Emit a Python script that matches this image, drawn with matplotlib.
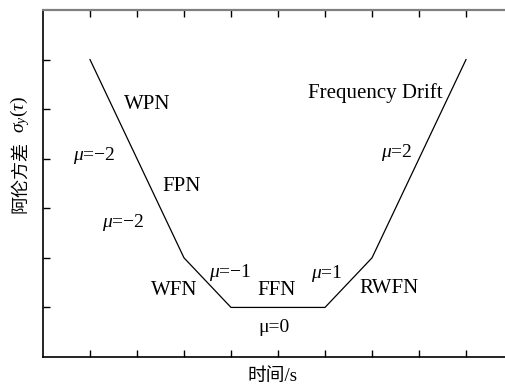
import matplotlib
matplotlib.use('Agg')
import matplotlib.pyplot as plt

plt.rcParams['font.family'] = ['Liberation Serif', 'Noto Sans CJK SC']
plt.rcParams['mathtext.fontset'] = 'custom'
plt.rcParams['mathtext.rm'] = 'Liberation Serif'
plt.rcParams['mathtext.it'] = 'Liberation Serif:italic'

# Allan variance slope diagram (log-log sketch, no numeric labels)
tau = [1, 3, 4, 6, 7, 9]
sigma = [6, 2, 1, 1, 2, 6]

# noise-type labels and slopes
labels = ['WPN', 'FPN', 'WFN', 'FFN', 'RWFN', 'Frequency Drift']
label_x = [2.21, 2.94, 2.79, 4.96, 7.36, 7.06]
label_y = [5.10, 3.43, 1.35, 1.35, 1.38, 5.33]

slopes = ['$\\mu$=\u22122', '$\\mu$=\u22122', '$\\mu$=\u22121', '\u03bc=0', '$\\mu$=1', '$\\mu$=2']
slope_x = [1.09, 1.70, 3.98, 4.91, 6.04, 7.53]
slope_y = [4.07, 2.72, 1.71, 0.60, 1.68, 4.13]

fig = plt.figure(figsize=(5.06, 3.85), dpi=100)
ax = fig.add_axes([43 / 506, 28 / 385, 470 / 506, 347 / 385])

ax.plot(tau, sigma, color='black', lw=0.9)

for t, x, y in zip(labels, label_x, label_y):
    ax.text(x, y, t, fontsize=15, ha='center', va='center')
for t, x, y in zip(slopes, slope_x, slope_y):
    ax.text(x, y, t, fontsize=14, ha='center', va='center')

ax.set_xlim(0, 10)
ax.set_ylim(0, 7)
ax.set_xticks(range(1, 10))
ax.set_yticks(range(1, 7))
ax.set_xticklabels([])
ax.set_yticklabels([])
ax.tick_params(direction='in', length=5, width=1, top=True, right=True)
ax.spines['top'].set_color('#808080')
ax.spines['top'].set_linewidth(1.6)
for s in ['left', 'bottom', 'right']:
    ax.spines[s].set_linewidth(1.2)

fig.text(272 / 506, 1 - 376 / 385, '时间/s', fontsize=13.5, ha='center', va='center')
fig.text(20 / 506, 1 - 177 / 385, '阿伦方差', fontsize=13, rotation=90,
         ha='center', va='center', family=['Noto Sans CJK SC'])
fig.text(20 / 506, 1 - 114 / 385, '$\\sigma_y(\\tau)$', fontsize=14, rotation=90,
         ha='center', va='center')

fig.savefig('out.png', dpi=100)
